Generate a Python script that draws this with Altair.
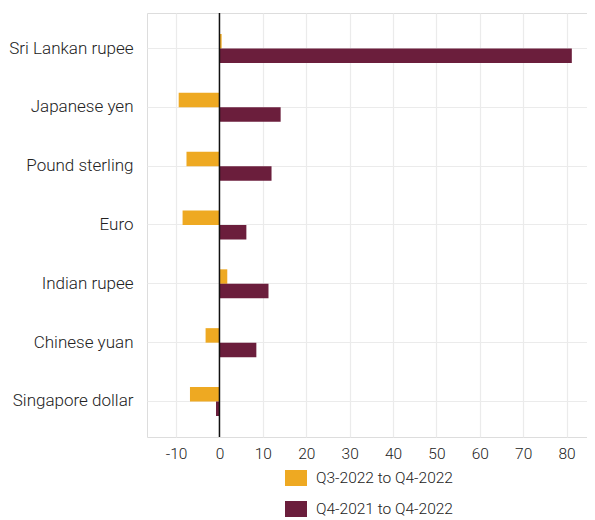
import altair as alt
import pandas as pd

currencies = ["Sri Lankan rupee", "Japanese yen", "Pound sterling", "Euro",
              "Indian rupee", "Chinese yuan", "Singapore dollar"]
q3_to_q4 = [0.5, -9.4, -7.6, -8.5, 1.8, -3.2, -6.8]
y_to_y = [81.2, 14.1, 12.0, 6.2, 11.3, 8.5, -0.8]
series = ["Q3-2022 to Q4-2022", "Q4-2021 to Q4-2022"]
x_ticks = [-10, 0, 10, 20, 30, 40, 50, 60, 70, 80]

rows = []
for c, a, b in zip(currencies, q3_to_q4, y_to_y):
    rows.append({"currency": c, "series": series[0], "value": a})
    rows.append({"currency": c, "series": series[1], "value": b})
df = pd.DataFrame(rows)

FONT = "Roboto"
TXT = "#222222"
W = 300

x_scale = alt.Scale(domain=[-16.7, 84.7], nice=False, zero=False)

bars = alt.Chart(df).mark_bar().encode(
    x=alt.X("value:Q", scale=x_scale,
            axis=alt.Axis(title=None, values=x_ticks, domain=False, ticks=False,
                          labelPadding=9, labelFontSize=15.5, labelColor=TXT,
                          labelFont=FONT, labelFontWeight=W,
                          gridColor="#ebebeb", gridWidth=1.2,
                          labelExpr="'' + datum.value")),
    y=alt.Y("currency:N", sort=currencies,
            scale=alt.Scale(paddingInner=0.507, paddingOuter=0.357),
            axis=alt.Axis(title=None, domain=False, ticks=False, labelPadding=14,
                          labelFontSize=17, labelColor=TXT, labelFont=FONT,
                          labelFontWeight=W,
                          gridColor="#ebebeb", gridWidth=1.2, grid=True)),
    yOffset=alt.YOffset("series:N", sort=series),
    color=alt.Color("series:N", sort=series,
                    scale=alt.Scale(domain=series, range=["#EEA922", "#6B1E3C"]),
                    legend=alt.Legend(title=None, orient="none", legendX=138,
                                      legendY=454, direction="vertical",
                                      symbolType="M-1,-0.73H1V0.73H-1Z",
                                      symbolSize=484, symbolStrokeWidth=0,
                                      rowPadding=11, labelOffset=9,
                                      labelFontSize=15.5, labelFont=FONT,
                                      labelFontWeight=W,
                                      labelColor=TXT, padding=0)),
)

zero_df = pd.DataFrame({"x": [0]})
zero = alt.Chart(zero_df).mark_rule(color="#111111", strokeWidth=1.5).encode(
    x=alt.X("x:Q", scale=x_scale)
)

chart = alt.layer(bars, zero).properties(
    width=440, height=424,
    autosize=alt.AutoSizeParams(type="none"),
    padding={"left": 139, "top": 5, "right": 0, "bottom": 100},
).configure_view(stroke=None).configure(font=FONT)

chart.save("out.html", embed_options={"renderer": "svg", "actions": False})
